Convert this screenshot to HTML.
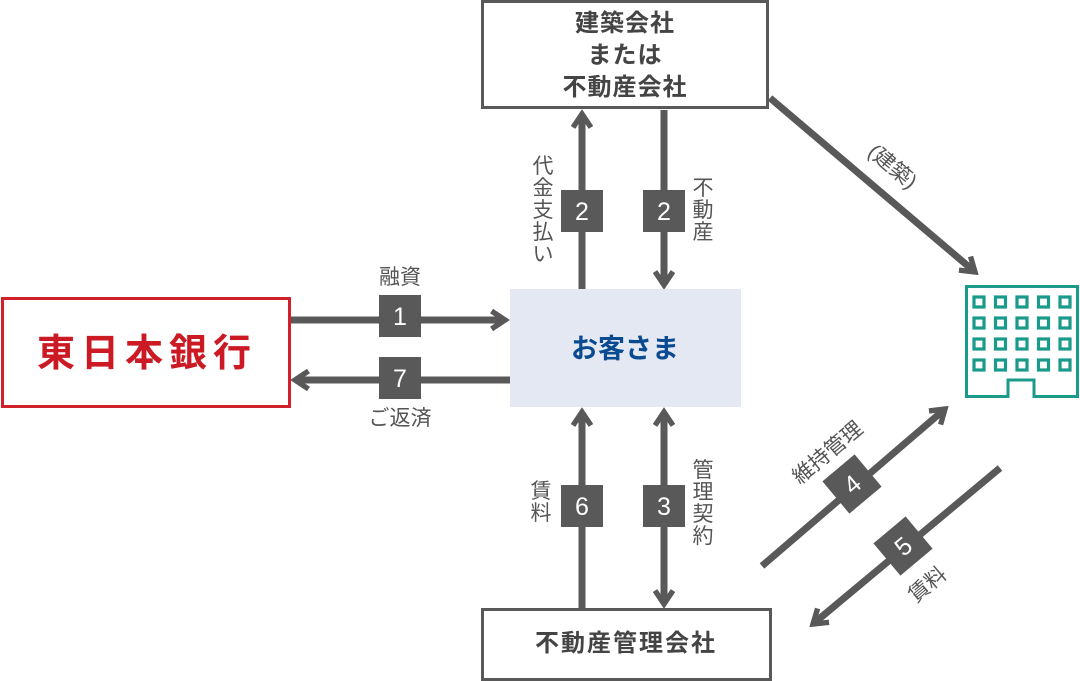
<!DOCTYPE html>
<html><head><meta charset="utf-8"><style>
html,body{margin:0;padding:0;background:#fff;}
svg{display:block;}
text{font-family:"Liberation Sans","Noto Sans CJK JP",sans-serif;}
</style></head><body>
<svg width="1080" height="681" viewBox="0 0 1080 681" xmlns="http://www.w3.org/2000/svg">
<defs>
<marker id="ah" viewBox="0 0 10 10" refX="8" refY="5" markerWidth="3.2" markerHeight="3.2" orient="auto-start-reverse" markerUnits="strokeWidth">
<polyline points="2,1 8,5 2,9" fill="none" stroke="#595959" stroke-width="2.4"/>
</marker>
</defs>
<g stroke="#595959" stroke-width="7" fill="none">
<line x1="290" y1="320" x2="505" y2="320" marker-end="url(#ah)"/>
<line x1="510" y1="380" x2="295" y2="380" marker-end="url(#ah)"/>
<line x1="582" y1="289" x2="582" y2="114" marker-end="url(#ah)"/>
<line x1="664" y1="110" x2="664" y2="285" marker-end="url(#ah)"/>
<line x1="582" y1="608" x2="582" y2="412" marker-end="url(#ah)"/>
<line x1="664" y1="412" x2="664" y2="604" marker-start="url(#ah)" marker-end="url(#ah)"/>
<line x1="770" y1="98" x2="975" y2="272" marker-end="url(#ah)"/>
<line x1="762" y1="566" x2="945" y2="409" marker-end="url(#ah)"/>
<line x1="1000" y1="468" x2="813" y2="624" marker-end="url(#ah)"/>
</g>
<rect x="482.5" y="1.5" width="285" height="106" fill="#fff" stroke="#595959" stroke-width="3"/>
<g font-size="24" font-weight="bold" fill="#444" text-anchor="middle" letter-spacing="1">
<text x="625" y="31">建築会社</text>
<text x="625" y="63">または</text>
<text x="625" y="95">不動産会社</text>
</g>

<rect x="2.5" y="298.5" width="287" height="108" fill="#fff" stroke="#d0202a" stroke-width="3"/>
<text x="147" y="366" text-anchor="middle" font-size="38" font-weight="bold" fill="#cc1a24" letter-spacing="6">東日本銀行</text>

<rect x="510" y="289" width="231" height="118" fill="#e3e8f3"/>
<text x="625" y="358" text-anchor="middle" font-size="27" font-weight="bold" fill="#0a4a90">お客さま</text>

<rect x="482.5" y="609.5" width="288" height="70" fill="#fff" stroke="#595959" stroke-width="3"/>
<text x="626" y="651" text-anchor="middle" font-size="24" font-weight="bold" fill="#444" letter-spacing="2">不動産管理会社</text>

<g fill="#595959">
<rect x="379" y="295" width="42" height="42"/>
<rect x="379" y="357" width="42" height="42"/>
<rect x="561" y="190" width="42" height="42"/>
<rect x="643" y="190" width="42" height="42"/>
<rect x="561" y="485" width="42" height="42"/>
<rect x="643" y="485" width="42" height="42"/>
<rect x="-21" y="-21" width="42" height="42" transform="translate(852,484) rotate(-40)"/>
<rect x="-21" y="-21" width="42" height="42" transform="translate(903,546) rotate(-40)"/>
</g>
<g fill="#fff" font-size="25" text-anchor="middle">
<text x="400" y="325">1</text>
<text x="400" y="387">7</text>
<text x="582" y="220">2</text>
<text x="664" y="220">2</text>
<text x="582" y="515">6</text>
<text x="664" y="515">3</text>
<text transform="translate(852,484) rotate(-40)" y="9">4</text>
<text transform="translate(903,546) rotate(-40)" y="9">5</text>
</g>
<g fill="#555" font-size="21" text-anchor="middle">
<text x="400" y="284">融資</text>
<text x="400" y="425">ご返済</text>
<text x="543" y="173">代</text><text x="543" y="195">金</text><text x="543" y="217">支</text><text x="543" y="239">払</text><text x="543" y="261">い</text>
<text x="703" y="195">不</text><text x="703" y="217">動</text><text x="703" y="239">産</text>
<text x="541" y="498">賃</text><text x="541" y="520">料</text>
<text x="703" y="477">管</text><text x="703" y="499">理</text><text x="703" y="521">契</text><text x="703" y="543">約</text>
<text transform="translate(888,172) rotate(40)">(建築)</text>
<text transform="translate(832,458) rotate(-40)">維持管理</text>
<text transform="translate(932,590) rotate(-40)">賃料</text>
</g>
<g fill="none" stroke="#1a9a8a" stroke-width="3">
<path d="M966.5,396.5 V286.5 H1077.5 V396.5 H1034 V380 H1008 V396.5 Z"/>
<g stroke-width="3.2">
<rect x="974" y="297" width="10" height="10"/><rect x="995.5" y="297" width="10" height="10"/><rect x="1017" y="297" width="10" height="10"/><rect x="1038.5" y="297" width="10" height="10"/><rect x="1060" y="297" width="10" height="10"/>
<rect x="974" y="318" width="10" height="10"/><rect x="995.5" y="318" width="10" height="10"/><rect x="1017" y="318" width="10" height="10"/><rect x="1038.5" y="318" width="10" height="10"/><rect x="1060" y="318" width="10" height="10"/>
<rect x="974" y="339" width="10" height="10"/><rect x="995.5" y="339" width="10" height="10"/><rect x="1017" y="339" width="10" height="10"/><rect x="1038.5" y="339" width="10" height="10"/><rect x="1060" y="339" width="10" height="10"/>
<rect x="974" y="360" width="10" height="10"/><rect x="995.5" y="360" width="10" height="10"/><rect x="1017" y="360" width="10" height="10"/><rect x="1038.5" y="360" width="10" height="10"/><rect x="1060" y="360" width="10" height="10"/>
</g>
</g>
</svg>
</body></html>
